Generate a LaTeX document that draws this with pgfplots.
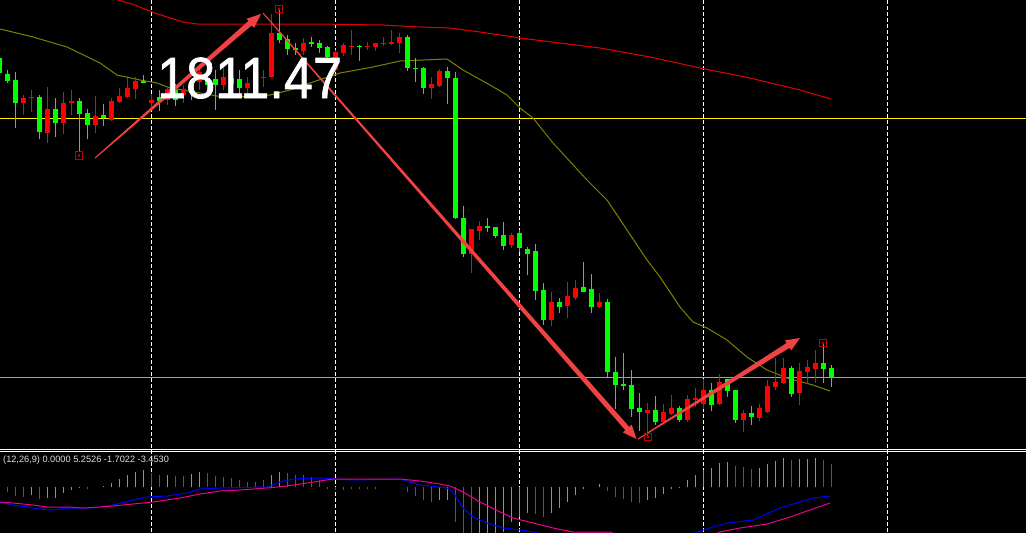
\documentclass[border=0pt]{standalone}
\usepackage{pgfplots}
\pgfplotsset{compat=1.18}
\usepackage{pgfplotstable}
\usepackage{fontspec}
\setmainfont{Liberation Sans}
\newfontfamily\labelfont[FakeBold=1.2]{Liberation Sans}

\definecolor{bull}{RGB}{0,255,0}
\definecolor{bear}{RGB}{255,0,0}
\definecolor{hgreen}{RGB}{70,200,70}
\definecolor{hred}{RGB}{225,30,30}
\definecolor{olive}{RGB}{128,128,0}
\definecolor{arrowred}{RGB}{240,66,66}
\definecolor{markred}{RGB}{190,0,0}
\definecolor{level}{RGB}{160,160,164}

% candles, in screen rows (y grows downward): body top/bottom, wick top/bottom
\pgfplotstableread{
k bt bb wt wb
-1 58 73 55 75
0 74 81 70 83
1 80 103 72 128
4 97 132 95 139
6 109 123 98 137
9 101 114 98 151
10 113 125 109 139
12 115 118 104 126
17 81 83 75 83
19 97 101 90 111
21 90 100 84 106
23 85 92 80 100
25 78 85 70 95
26 79 85 70 110
28 78 84 72 92
29 79 88 70 95
34 33 40 10 43
35 39 49 35 55
36 48 50 43 55
38 42 44 37 47
39 43 48 40 53
40 47 57 46 63
44 46 47 45 61
50 37 68 35 71
51 68 69 58 82
52 68 88 67 94
55 71 78 67 104
56 78 218 72 219
57 218 254 206 257
60 226 228 218 232
61 227 236 227 238
62 235 246 222 250
64 233 248 230 252
65 249 254 247 275
66 251 291 244 300
67 290 320 283 325
69 302 307 298 313
72 287 292 262 292
73 289 307 274 313
75 302 372 299 377
76 372 385 357 409
77 384 386 353 390
78 385 409 370 417
79 408 412 393 431
81 410 422 396 425
84 408 420 406 422
88 390 405 383 411
90 379 391 379 397
91 390 420 390 423
93 413 417 406 425
98 368 394 366 397
102 363 369 342 383
103 368 378 365 387
}\greencandles

\pgfplotstableread{
k bt bb wt wb
2 98 103 95 115
3 97 98 90 112
5 109 133 87 143
7 103 123 92 134
8 101 103 90 115
11 116 125 96 133
13 101 120 98 121
14 96 102 88 103
15 88 97 76 98
16 81 89 77 99
18 100 103 94 107
20 89 100 87 105
22 89 95 85 103
24 72 82 68 90
27 77 85 67 90
30 83 88 77 98
31 77 85 70 88
32 77 78 70 87
33 33 77 14 77
37 43 51 38 55
41 52 70 50 72
42 45 53 43 56
43 46 47 30 55
45 46 47 42 50
46 43 47 43 51
47 43 44 37 46
48 42 44 30 45
49 37 43 33 53
53 84 88 77 99
54 71 86 69 87
58 229 254 229 273
59 226 231 221 240
63 235 245 233 248
68 302 320 292 326
70 296 306 282 318
71 288 298 280 300
74 302 307 293 308
80 410 413 403 437
82 412 422 404 423
83 408 414 395 415
85 399 420 395 422
86 398 400 388 407
87 390 404 379 409
89 382 404 374 405
92 413 420 410 432
94 408 418 404 421
95 386 412 380 413
96 382 387 358 390
97 368 383 358 384
99 371 393 363 405
100 367 372 360 384
101 363 369 350 383
}\redcandles

% MACD histogram, end row of each bar (zero line at row 487)
\pgfplotstableread{
k y
3 495
5 498
6 498
7 493
8 490
9 488
12 486
13 483
14 479
15 475
16 472
17 470
20 475
23 474
24 472
33 475
34 472
54 500
55 500
59 536
60 536
61 536
62 532
63 522
64 517
65 513
68 513
69 508
70 502
71 495
72 489
74 484
80 500
81 498
82 494
83 489
84 488
85 480
86 475
87 470
88 468
89 463
90 462
94 468
95 464
96 461
97 458
99 459
100 459
101 458
}\histgreen

\pgfplotstableread{
k y
0 492
1 496
2 497
4 499
10 489
18 473
19 475
21 476
22 476
25 473
26 476
27 477
28 478
29 480
30 482
31 482
32 480
35 473
36 475
37 475
38 477
39 480
40 489
41 490
42 490
43 489
44 489
45 489
46 489
50 492
51 496
52 500
53 502
56 522
57 536
58 536
66 514
67 517
75 491
76 497
77 499
78 502
79 503
91 466
92 467
93 469
98 460
102 460
103 464
}\histred

\begin{document}
\begin{tikzpicture}
\begin{axis}[
    width=1026pt, height=533pt, scale only axis,
    xmin=0, xmax=1026, ymin=0, ymax=533,
    y dir=reverse,
    axis line style={draw=none},
    ticks=none,
    axis background/.style={fill=black},
    clip=true,
]
% session separators
\pgfplotsinvokeforeach{151.5,335.5,519.5,703.5,887.5}{
  \addplot[white, line width=1pt, dash pattern=on 4pt off 2pt] coordinates {(#1,0) (#1,533)};
}
% price levels
\addplot[yellow, line width=1pt] coordinates {(0,118.5) (1026,118.5)};
\addplot[level, line width=1pt] coordinates {(0,377.5) (1026,377.5)};
% panel separator
\addplot[white, line width=1pt] coordinates {(0,449.5) (1026,449.5)};
\addplot[white, line width=1pt] coordinates {(0,451.5) (1026,451.5)};

% moving averages
\addplot[bear!90!black, line width=1pt] coordinates {
(118,0) (135,5) (152,12) (170,18) (183,22) (197,24) (260,24) (317,24) (383,25)
(420,27) (450,28) (457,29) (480,32) (520,38) (560,43) (600,48) (650,57)
(700,68) (750,78) (800,90) (831,99)};
\addplot[olive, line width=1pt] coordinates {
(0,29) (33,37) (67,47) (100,63) (117,75) (140,80) (157,83) (170,88) (200,93)
(217,96) (230,97) (260,96) (270,95) (290,90) (310,83) (340,73) (373,67) (400,61)
(447,59) (463,70) (490,85) (507,95) (520,108) (533,118) (553,143) (587,180)
(607,200) (627,230) (647,260) (660,277) (680,307) (693,322) (707,328) (727,340)
(747,357) (767,370) (787,378) (813,385) (830,391)};

% candles: wicks then bodies
\addplot[bull, line width=1pt, quiver={u=0, v=\thisrow{wb}-\thisrow{wt}}]
  table[x expr=7.3+8*\thisrow{k}, y=wt] {\greencandles};
\addplot[bull, line width=5pt, quiver={u=0, v=\thisrow{bb}-\thisrow{bt}}]
  table[x expr=7.3+8*\thisrow{k}, y=bt] {\greencandles};
\addplot[bear, line width=1pt, quiver={u=0, v=\thisrow{wb}-\thisrow{wt}}]
  table[x expr=7.3+8*\thisrow{k}, y=wt] {\redcandles};
\addplot[bear, line width=5pt, quiver={u=0, v=\thisrow{bb}-\thisrow{bt}}]
  table[x expr=7.3+8*\thisrow{k}, y=bt] {\redcandles};

% trend arrows (tapered)
\addplot[fill=arrowred, draw=none] coordinates {
(95.2,158.5) (251.4,25.6) (254.3,27.6) (261,14) (246.5,18.8) (248.4,21.0) (94.8,157.5) (95.2,158.5)};
\addplot[fill=arrowred, draw=none] coordinates {
(262.62,13.33) (625.3,430.2) (622.8,432.4) (636.5,439) (631.7,424.6) (629.2,426.8) (263.38,12.67) (262.62,13.33)};
\addplot[fill=arrowred, draw=none] coordinates {
(638.26,439.42) (789.6,347.8) (791.2,350.4) (800,338) (785.0,340.4) (786.6,343.0) (637.74,438.58) (638.26,439.42)};

% fractal markers
\addplot[only marks, mark=square, mark size=3.8pt, markred, line width=1pt]
  coordinates {(79,155.5) (279,9) (648,437) (823,343)};
\addplot[only marks, mark=x, mark size=1.5pt, markred, line width=0.8pt]
  coordinates {(79,155.5) (279,9) (648,437) (823,343)};

% MACD histogram
\addplot[hgreen, line width=1.2pt, quiver={u=0, v=\thisrow{y}-487}]
  table[x expr=7.3+8*\thisrow{k}, y expr=487] {\histgreen};
\addplot[hred, line width=1.2pt, quiver={u=0, v=\thisrow{y}-487}]
  table[x expr=7.3+8*\thisrow{k}, y expr=487] {\histred};
\addplot[blue, line width=1pt] coordinates {
(0,502) (13,505) (27,507) (40,509) (53,510) (67,508) (87,508) (100,507) (113,505)
(133,500) (147,497) (167,496) (187,493) (200,489) (220,488) (267,487) (280,482)
(293,479) (320,478) (353,480) (400,479) (420,485) (447,488) (453,492) (463,508)
(473,517) (487,523) (503,528) (520,530) (533,532) (550,536) (690,536) (697,532)
(713,527) (727,523) (753,520) (780,508) (813,498) (830,496)};
\addplot[magenta, line width=1pt] coordinates {
(0,502) (13,503) (33,505) (47,507) (67,507) (83,508) (100,507) (113,506) (133,504)
(153,502) (180,498) (200,494) (220,491) (240,490) (267,488) (287,486) (307,483)
(320,481) (333,479) (353,479) (400,479) (420,481) (440,484) (450,486) (463,492)
(480,502) (500,512) (513,518) (533,523) (553,528) (573,532) (610,532) (620,536)
(710,536) (720,532) (740,528) (767,524) (787,518) (807,511) (830,503)};

\node[anchor=west, inner sep=0pt, text=white!88!black, font=\fontsize{9.2}{11}\selectfont]
  at (axis cs:3,460) {(12,26,9) 0.0000 5.2526 -1.7022 -3.4530};

% price label
\node[anchor=base west, inner sep=0pt, xscale=0.9, text=white, font=\labelfont\fontsize{58}{58}\selectfont]
  at (axis cs:157,98) {1811.47};
\end{axis}
\end{tikzpicture}
\end{document}
